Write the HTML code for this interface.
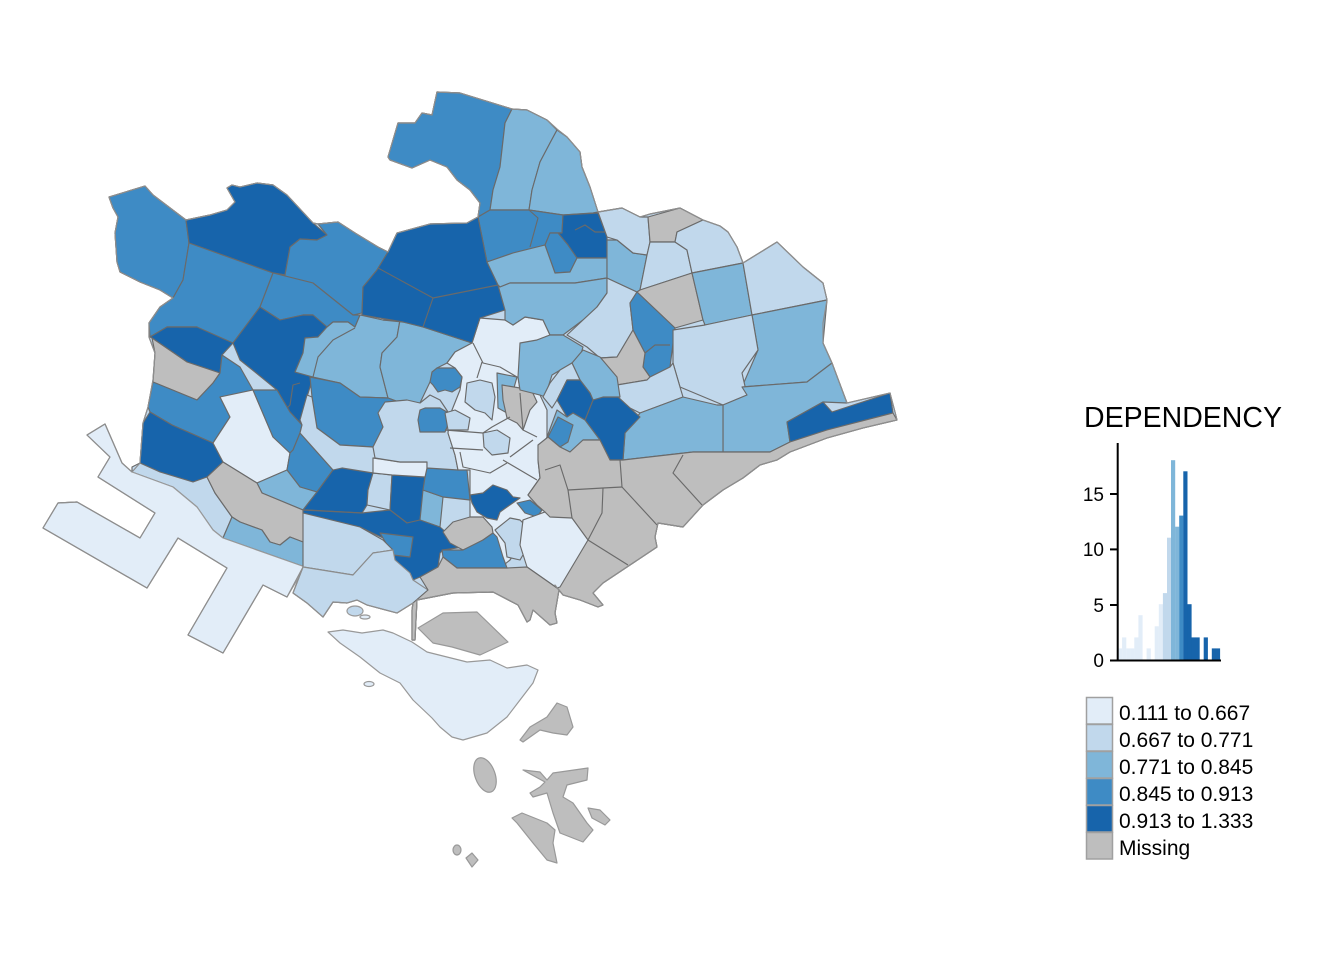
<!DOCTYPE html>
<html><head><meta charset="utf-8"><style>
html,body{margin:0;padding:0;background:#fff;}
svg{display:block;}
text{font-family:"Liberation Sans",Arial,sans-serif;fill:#000;}
</style></head><body>
<svg width="1344" height="960" viewBox="0 0 1344 960" xmlns="http://www.w3.org/2000/svg">
<rect width="1344" height="960" fill="#fff"/>
<g stroke="#6a6a6a" stroke-width="1.15" stroke-linejoin="round">
<polygon fill="#C1D8EC" points="109,197 145,186 153,195 182,217 186,220 210,215 227,210 235,202 227,188 232,185 240,187 257,183 273,185 287,195 313,223 318,224 338,222 355,233 378,247 388,252 397,233 430,224 467,223 478,217 480,203 470,190 457,180 447,167 430,160 412,168 390,160 388,157 398,123 415,123 422,113 432,115 437,92 460,93 512,109 527,110 547,120 558,130 567,137 580,152 582,167 590,187 598,212 622,208 640,217 650,214 680,208 703,220 720,226 728,232 737,247 743,263 777,242 803,267 823,283 827,300 823,323 823,343 832,363 847,403 890,393 895,412 897,420 863,428 827,438 790,452 777,460 760,465 743,478 723,490 703,505 683,527 658,523 655,537 657,547 630,565 603,583 593,593 603,605 598,607 580,600 563,595 555,585 559,590 555,613 557,623 550,625 533,610 530,620 527,622 518,605 493,592 453,593 417,600 415,640 412,640 412,610 413,603 397,613 367,605 357,600 347,603 333,602 323,617 307,603 293,593 303,567 287,597 263,585 223,653 188,635 227,568 178,538 147,588 43,528 58,503 77,502 140,538 155,513 98,477 110,457 87,435 105,424 122,463 132,472 140,463 143,423 148,407 153,380 155,353 149,337 149,323 160,307 173,298 160,290 140,282 120,272 117,262 115,233 118,217 113,208"/>

<!-- NW -->
<polygon fill="#3E8BC5" points="109,197 145,186 153,195 182,217 186,220 189,243 183,280 173,298 160,290 140,282 120,272 117,262 115,233 118,217 113,208"/>
<polygon fill="#1764AB" points="186,220 210,215 227,210 235,202 227,188 232,185 240,187 257,183 273,185 287,195 313,223 327,235 317,240 300,239 290,247 285,275 273,273 189,243"/>
<polygon fill="#3E8BC5" points="189,243 273,273 260,307 233,343 210,337 197,327 167,327 150,337 149,323 160,307 173,298 183,280"/>
<polygon fill="#3E8BC5" points="285,275 290,247 300,239 317,240 327,235 318,224 338,222 355,233 378,247 388,252 377,270 363,287 362,313 353,315 313,283 273,273"/>
<polygon fill="#3E8BC5" points="273,273 313,283 353,315 362,315 360,315 355,327 348,322 333,322 327,327 313,315 303,315 280,320 260,307"/>
<polygon fill="#1764AB" points="260,307 280,320 303,315 313,315 327,327 318,337 305,338 303,353 295,372 313,377 307,397 302,425 290,412 277,390 255,372 240,360 233,343"/>
<polyline fill="none" points="282,413 290,405 293,385 300,383"/>
<polygon fill="#1764AB" points="150,337 167,327 197,327 233,343 222,355 220,373 187,362 152,338"/>
<polygon fill="#BEBEBE" points="152,338 187,362 220,373 213,383 197,400 153,382 155,353"/>
<polygon fill="#3E8BC5" points="153,382 197,400 213,383 220,373 222,355 240,367 253,390 220,397 230,417 213,443 172,425 150,412 148,407"/>
<polygon fill="#1764AB" points="150,412 172,425 213,443 223,462 207,477 193,482 160,472 140,463 143,423"/>
<polygon fill="#E2EDF8" points="220,397 253,390 273,437 290,453 287,470 257,483 223,462 213,443 230,417"/>
<polygon fill="#3E8BC5" points="253,390 277,390 290,412 302,425 300,433 293,450 290,453 273,437"/>
<polygon fill="#3E8BC5" points="300,433 333,470 317,492 300,487 287,470 290,453 293,450"/>
<polygon fill="#7FB6D9" points="287,470 300,487 317,492 303,510 262,493 257,483"/>
<polygon fill="#C1D8EC" points="132,467 140,463 160,472 193,482 207,477 215,493 232,517 223,538 213,530 197,507 173,487 132,472"/>
<polygon fill="#BEBEBE" points="207,477 223,462 257,483 262,493 303,510 310,538 303,542 290,537 280,545 270,542 262,530 240,522 232,517 215,493"/>
<polygon fill="#7FB6D9" points="232,517 240,522 262,530 270,542 280,545 290,537 303,542 310,538 305,567 223,538"/>
<polygon fill="#E2EDF8" stroke="#9a9a9a" points="87,435 105,424 122,463 132,472 173,487 197,507 213,530 223,538 305,567 287,597 263,585 223,653 188,635 227,568 178,538 147,588 43,528 58,503 77,502 140,538 155,513 98,477 110,457"/>

<!-- central west -->
<polygon fill="#7FB6D9" points="295,372 303,353 305,338 318,337 327,327 333,322 348,322 355,327 360,315 383,320 400,320 397,337 382,353 380,367 388,398 360,397 340,383 313,377"/>
<polyline fill="none" points="313,377 318,357 333,340 355,328"/>
<polygon fill="#7FB6D9" points="383,320 403,322 423,327 472,343 455,352 447,363 437,368 430,382 420,403 407,405 388,398 380,367 382,353 397,337 400,320"/>
<polygon fill="#3E8BC5" points="310,377 340,383 360,397 388,398 407,405 383,427 373,447 340,445 317,428 312,397"/>
<polygon fill="#C1D8EC" points="300,420 302,425 300,433 333,470 373,473 377,458 373,447 340,445 317,428 312,397 307,395"/>
<polygon fill="#1764AB" points="333,470 342,468 373,473 368,490 367,505 362,513 307,510 303,510 317,492"/>
<polygon fill="#C1D8EC" points="373,473 392,475 390,510 367,505 368,490"/>
<polygon fill="#1764AB" points="392,475 425,477 420,520 407,523 390,510"/>
<polygon fill="#7FB6D9" points="423,490 443,497 440,527 420,520"/>
<polygon fill="#3E8BC5" points="427,468 467,470 470,500 443,497 423,490 425,477"/>
<polygon fill="#E2EDF8" points="373,458 400,462 427,462 427,468 425,477 392,475 373,473"/>
<polygon fill="#C1D8EC" points="378,413 385,402 407,400 420,403 430,395 440,400 450,415 448,433 455,455 458,470 427,468 427,462 400,462 375,458 373,447 383,427"/>
<polygon fill="#3E8BC5" points="420,410 425,408 440,408 447,412 448,425 445,432 420,432 418,420"/>

<!-- central C1 -->
<polygon fill="#E2EDF8" points="455,352 472,343 480,318 505,320 513,325 525,317 543,320 550,335 537,340 523,353 518,377 520,390 540,395 547,410 547,437 538,460 540,478 528,495 537,505 545,512 523,520 520,545 510,560 500,568 493,552 470,550 463,547 470,530 470,500 470,470 458,470 455,455 448,433 450,415 460,390 462,377 455,368 447,363"/>
<polygon fill="#3E8BC5" points="432,372 437,368 455,368 462,377 460,387 452,392 445,390 438,392 433,385 430,382"/>
<polygon fill="#C1D8EC" points="467,383 480,380 492,383 495,397 492,420 485,413 475,410 465,402"/>
<polygon fill="#C1D8EC" points="483,433 497,430 510,438 508,453 492,455 484,447"/>
<polygon fill="#C1D8EC" points="445,413 455,410 470,418 468,430 448,430"/>
<polygon fill="#7FB6D9" points="497,373 517,377 507,413 498,408"/>
<polygon fill="#BEBEBE" points="502,385 520,388 530,387 537,402 530,410 523,430 517,423 507,418 503,400"/>
<polyline fill="none" points="473,343 483,363 500,367 517,377"/>
<polyline fill="none" points="482,362 477,378"/>
<polyline fill="none" points="445,430 483,433 492,427 510,417"/>
<polyline fill="none" points="450,448 483,450"/>
<polyline fill="none" points="460,452 463,467 490,473 507,463"/>
<polyline fill="none" points="503,460 537,480"/>
<polyline fill="none" points="510,457 533,440"/>
<polyline fill="none" points="520,393 523,430 537,437"/>

<polygon fill="#1764AB" points="470,495 483,493 493,485 507,490 513,497 520,498 507,507 500,512 497,520 487,518 477,512 472,503"/>
<polygon fill="#3E8BC5" points="517,503 530,500 542,510 537,517 525,513"/>
<polygon fill="#C1D8EC" points="495,530 510,518 520,520 527,527 540,527 537,537 530,543 520,560 507,557 505,543"/>

<!-- diagonal dark strip -->
<polygon fill="#1764AB" points="303,510 362,513 390,510 407,523 420,520 440,527 463,547 443,550 440,553 438,567 420,577 413,580 410,573 395,560 393,550 383,538 360,527 303,513"/>
<polygon fill="#3E8BC5" points="380,533 413,537 410,557 393,555"/>
<polygon fill="#C1D8EC" points="303,513 360,527 383,540 393,550 373,553 353,575 303,567"/>
<polygon fill="#C1D8EC" stroke="#8c8c8c" points="303,567 353,575 373,553 393,550 395,560 410,573 413,580 428,590 413,603 397,613 367,605 357,600 347,603 333,602 323,617 307,603 293,593"/>
<polygon fill="#BEBEBE" points="443,532 453,522 470,517 483,517 492,527 493,533 483,540 470,547 463,550 450,543"/>
<polygon fill="#3E8BC5" points="442,550 463,550 483,540 493,533 497,537 503,557 507,568 457,568 443,557"/>

<!-- north -->
<polygon fill="#3E8BC5" points="388,157 398,123 415,123 422,113 432,115 437,92 460,93 512,109 505,123 500,167 493,190 490,210 478,217 480,203 470,190 457,180 447,167 430,160 412,168 390,160"/>
<polygon fill="#7FB6D9" points="512,109 527,110 547,120 557,130 550,143 540,162 532,190 529,210 490,210 493,190 500,167 505,123"/>
<polygon fill="#7FB6D9" points="557,130 567,137 580,152 582,167 590,187 598,212 593,213 563,215 529,210 532,190 540,162 550,143"/>
<polygon fill="#3E8BC5" points="478,217 490,210 529,210 563,215 562,233 550,233 545,245 513,253 487,262"/>
<polyline fill="none" points="529,210 538,218 530,247"/>
<polygon fill="#1764AB" points="388,252 397,233 430,224 467,223 478,217 487,262 498,285 505,310 480,318 472,343 423,327 403,322 362,315 363,287 377,270"/>
<polyline fill="none" points="378,268 433,298 498,285"/>
<polyline fill="none" points="433,298 423,327"/>
<polygon fill="#1764AB" points="563,215 598,213 607,237 607,258 572,258 568,245 558,233 562,233"/>
<polyline fill="none" points="575,230 585,225 595,232 605,232"/>
<polygon fill="#3E8BC5" points="550,233 558,233 568,245 577,258 570,272 555,273 545,245"/>
<polygon fill="#7FB6D9" points="487,262 513,253 545,245 555,273 570,272 577,258 607,258 607,278 575,283 510,283 500,287 498,285"/>
<polygon fill="#7FB6D9" points="498,285 500,287 510,283 575,283 607,278 607,293 597,307 583,320 563,335 550,335 543,320 525,317 513,325 505,320 505,310"/>
<polygon fill="#C1D8EC" points="607,278 637,292 630,303 633,330 617,357 600,358 587,347 567,335 583,320 597,307 607,293"/>
<polygon fill="#7FB6D9" points="520,343 537,340 550,335 563,335 583,347 580,357 572,363 552,375 545,397 540,395 520,390 518,377"/>
<polygon fill="#7FB6D9" points="607,240 617,240 633,253 647,255 640,290 637,292 607,278 607,258"/>
<polygon fill="#C1D8EC" points="598,212 622,208 640,217 648,217 650,242 647,255 633,253 617,240 607,237"/>
<polygon fill="#BEBEBE" points="648,217 680,208 703,220 677,232 675,242 650,242"/>
<polygon fill="#C1D8EC" points="650,242 675,242 687,250 692,273 640,290 647,255"/>
<polygon fill="#C1D8EC" points="677,232 703,220 720,226 728,232 737,247 743,263 692,273 687,250 675,242"/>
<polygon fill="#BEBEBE" points="640,290 692,273 703,320 675,328 637,292"/>
<polygon fill="#3E8BC5" points="630,303 637,292 675,328 670,367 650,377 643,367 645,353 633,330"/>
<polyline fill="none" points="645,353 655,345 670,345"/>
<polygon fill="#BEBEBE" points="617,357 633,330 645,353 643,367 650,377 647,380 617,385 600,358"/>
<polygon fill="#7FB6D9" points="692,273 743,263 752,315 705,325 703,320"/>
<polygon fill="#C1D8EC" points="743,263 777,242 803,267 823,283 827,300 752,315"/>
<polygon fill="#7FB6D9" points="752,315 827,300 823,343 832,363 807,382 742,387 758,350"/>
<polygon fill="#C1D8EC" points="673,330 705,325 752,315 758,350 742,373 747,395 723,405 680,387 673,363"/>
<polygon fill="#7FB6D9" points="723,405 747,395 742,387 807,382 832,363 847,403 823,402 787,422 790,442 770,452 723,452"/>
<polygon fill="#1764AB" points="787,422 823,402 832,412 890,393 893,413 827,430 790,442"/>
<polygon fill="#C1D8EC" points="617,385 647,380 650,377 670,367 673,363 680,387 683,397 640,413 630,408 618,397"/>
<polygon fill="#7FB6D9" points="625,433 640,413 683,397 717,405 723,405 723,452 693,452 623,460"/>
<polygon fill="#1764AB" points="593,400 603,397 618,397 630,408 640,417 625,433 623,460 610,460 600,440 585,420"/>
<polygon fill="#7FB6D9" points="572,363 583,350 600,357 617,377 620,397 603,397 593,400 590,393 580,380"/>
<polygon fill="#C1D8EC" points="543,397 550,383 560,370 572,363 580,380 567,380 557,400 552,408"/>
<polygon fill="#1764AB" points="557,400 567,380 580,380 590,393 593,400 585,420 573,413 567,417"/>
<polygon fill="#7FB6D9" points="547,437 557,410 567,417 573,413 585,420 600,440 583,440 570,452 560,447"/>
<polygon fill="#3E8BC5" points="548,437 558,417 573,425 568,442 560,447"/>

<!-- gray east -->
<polygon fill="#BEBEBE" points="538,445 548,437 560,447 570,452 583,440 600,440 610,460 623,460 693,452 723,452 770,452 790,442 827,430 893,413 897,420 863,428 827,438 790,452 777,460 760,465 743,478 723,490 703,505 683,527 658,523 655,537 657,547 630,565 603,583 593,593 603,605 598,607 580,600 563,595 555,585 540,575 527,567 540,540 545,512 537,505 528,495 540,478 538,460"/>
<polyline fill="none" points="620,460 622,487 657,525"/>
<polyline fill="none" points="568,490 603,488 622,487"/>
<polyline fill="none" points="603,488 602,513 588,540 628,565"/>
<polyline fill="none" points="683,455 673,473 702,505"/>
<polyline fill="none" points="545,470 560,465 568,490 572,518"/>
<polygon fill="#E2EDF8" points="545,512 550,517 572,518 588,540 560,587 557,588 527,567 520,545 523,520"/>
<polygon fill="#BEBEBE" points="413,603 428,590 420,577 438,567 443,557 457,568 507,568 527,567 557,588 559,590 555,613 557,623 550,625 533,610 530,620 527,622 518,605 493,592 453,593 417,600 415,640 412,640 412,610"/>
</g>

<!-- coast overlay -->
<polygon fill="none" stroke="#8e8e8e" stroke-width="1.2" stroke-linejoin="round" points="109,197 145,186 153,195 182,217 186,220 210,215 227,210 235,202 227,188 232,185 240,187 257,183 273,185 287,195 313,223 318,224 338,222 355,233 378,247 388,252 397,233 430,224 467,223 478,217 480,203 470,190 457,180 447,167 430,160 412,168 390,160 388,157 398,123 415,123 422,113 432,115 437,92 460,93 512,109 527,110 547,120 558,130 567,137 580,152 582,167 590,187 598,212 622,208 640,217 650,214 680,208 703,220 720,226 728,232 737,247 743,263 777,242 803,267 823,283 827,300 823,323 823,343 832,363 847,403 890,393 895,412 897,420 863,428 827,438 790,452 777,460 760,465 743,478 723,490 703,505 683,527 658,523 655,537 657,547 630,565 603,583 593,593 603,605 598,607 580,600 563,595 555,585 559,590 555,613 557,623 550,625 533,610 530,620 527,622 518,605 493,592 453,593 417,600 415,640 412,640 412,610 413,603 397,613 367,605 357,600 347,603 333,602 323,617 307,603 293,593 303,567 287,597 263,585 223,653 188,635 227,568 178,538 147,588 43,528 58,503 77,502 140,538 155,513 98,477 110,457 87,435 105,424 122,463 132,472 140,463 143,423 148,407 153,380 155,353 149,337 149,323 160,307 173,298 160,290 140,282 120,272 117,262 115,233 118,217 113,208"/>

<!-- islands -->
<g stroke="#999" stroke-width="1.2" stroke-linejoin="round">
<polygon fill="#E2EDF8" points="328,632 343,630 362,633 383,630 393,633 412,642 427,652 447,657 467,662 490,660 507,668 527,665 538,670 533,683 520,700 507,717 487,733 463,740 452,737 440,727 432,718 413,700 400,683 380,673 360,657 340,643"/>
<polygon fill="#BEBEBE" points="418,628 443,613 477,612 508,642 480,655 452,647 433,643"/>
<polygon fill="#BEBEBE" points="520,740 530,727 547,717 557,703 567,707 573,727 567,735 553,733 540,730 523,742"/>
<ellipse fill="#BEBEBE" cx="485" cy="775" rx="10" ry="18" transform="rotate(-20 485 775)"/>
<polygon fill="#BEBEBE" points="523,770 540,772 547,780 553,773 588,768 587,780 567,785 563,797 573,803 587,823 593,830 583,842 560,833 553,813 547,793 533,797 530,793 540,787 545,782"/>
<polygon fill="#BEBEBE" points="512,818 522,813 547,823 555,830 553,843 557,863 547,860 533,843 517,823"/>
<polygon fill="#BEBEBE" points="588,808 600,810 610,820 605,825 592,818"/>
<ellipse fill="#BEBEBE" cx="457" cy="850" rx="4" ry="5"/>
<polygon fill="#BEBEBE" points="466,858 472,853 478,860 472,867"/>
<ellipse fill="#C1D8EC" cx="355" cy="611" rx="8" ry="5"/>
<ellipse fill="#E2EDF8" cx="365" cy="617" rx="5" ry="2"/>
<ellipse fill="#E2EDF8" cx="369" cy="684" rx="5" ry="2.5"/>
</g>

<text x="1084" y="427" font-size="28.5">DEPENDENCY</text>

<g>
<rect x="1118.0" y="648.4" width="4.2" height="11.1" fill="#E2EDF8"/>
<rect x="1122.1" y="637.4" width="4.2" height="22.1" fill="#E2EDF8"/>
<rect x="1126.2" y="648.4" width="4.2" height="11.1" fill="#E2EDF8"/>
<rect x="1130.2" y="648.4" width="4.2" height="11.1" fill="#E2EDF8"/>
<rect x="1134.3" y="637.4" width="4.2" height="22.1" fill="#E2EDF8"/>
<rect x="1138.4" y="615.2" width="4.2" height="44.3" fill="#E2EDF8"/>
<rect x="1146.6" y="648.4" width="4.2" height="11.1" fill="#E2EDF8"/>
<rect x="1154.7" y="626.3" width="4.2" height="33.2" fill="#E2EDF8"/>
<rect x="1158.8" y="604.2" width="4.2" height="55.3" fill="#E2EDF8"/>
<rect x="1162.9" y="593.1" width="4.2" height="66.4" fill="#C1D8EC"/>
<rect x="1167.0" y="537.7" width="4.2" height="121.8" fill="#C1D8EC"/>
<rect x="1171.0" y="460.2" width="4.2" height="199.3" fill="#7FB6D9"/>
<rect x="1175.1" y="526.7" width="4.2" height="132.8" fill="#7FB6D9"/>
<rect x="1179.2" y="515.6" width="4.2" height="143.9" fill="#3E8BC5"/>
<rect x="1183.3" y="471.3" width="4.2" height="188.2" fill="#1764AB"/>
<rect x="1187.4" y="604.2" width="4.2" height="55.3" fill="#1764AB"/>
<rect x="1191.4" y="637.4" width="4.2" height="22.1" fill="#1764AB"/>
<rect x="1195.5" y="637.4" width="4.2" height="22.1" fill="#1764AB"/>
<rect x="1203.7" y="637.4" width="4.2" height="22.1" fill="#1764AB"/>
<rect x="1211.8" y="648.4" width="4.2" height="11.1" fill="#1764AB"/>
<rect x="1215.9" y="648.4" width="4.2" height="11.1" fill="#1764AB"/>
</g>
<g stroke="#000" stroke-width="2">
<line x1="1117.7" y1="443" x2="1117.7" y2="661.5"/>
<line x1="1110" y1="660.5" x2="1221" y2="660.5"/>
<line x1="1110" y1="605" x2="1118" y2="605"/>
<line x1="1110" y1="549.4" x2="1118" y2="549.4"/>
<line x1="1110" y1="494" x2="1118" y2="494"/>
</g>
<g font-size="19" text-anchor="end">
<text x="1104" y="667">0</text>
<text x="1104" y="612">5</text>
<text x="1104" y="556">10</text>
<text x="1104" y="501">15</text>
</g>

<g stroke="#a0a0a0" stroke-width="1.5">
<rect x="1086.5" y="697.5" width="26" height="26.5" fill="#E2EDF8"/>
<rect x="1086.5" y="724.5" width="26" height="26.5" fill="#C1D8EC"/>
<rect x="1086.5" y="751.5" width="26" height="26.5" fill="#7FB6D9"/>
<rect x="1086.5" y="778.5" width="26" height="26.5" fill="#3E8BC5"/>
<rect x="1086.5" y="805.5" width="26" height="26.5" fill="#1764AB"/>
<rect x="1086.5" y="832.5" width="26" height="26.5" fill="#BEBEBE"/>
</g>
<g font-size="21">
<text x="1119" y="720">0.111 to 0.667</text>
<text x="1119" y="747">0.667 to 0.771</text>
<text x="1119" y="774">0.771 to 0.845</text>
<text x="1119" y="801">0.845 to 0.913</text>
<text x="1119" y="828">0.913 to 1.333</text>
<text x="1119" y="855">Missing</text>
</g>
</svg>
</body></html>
